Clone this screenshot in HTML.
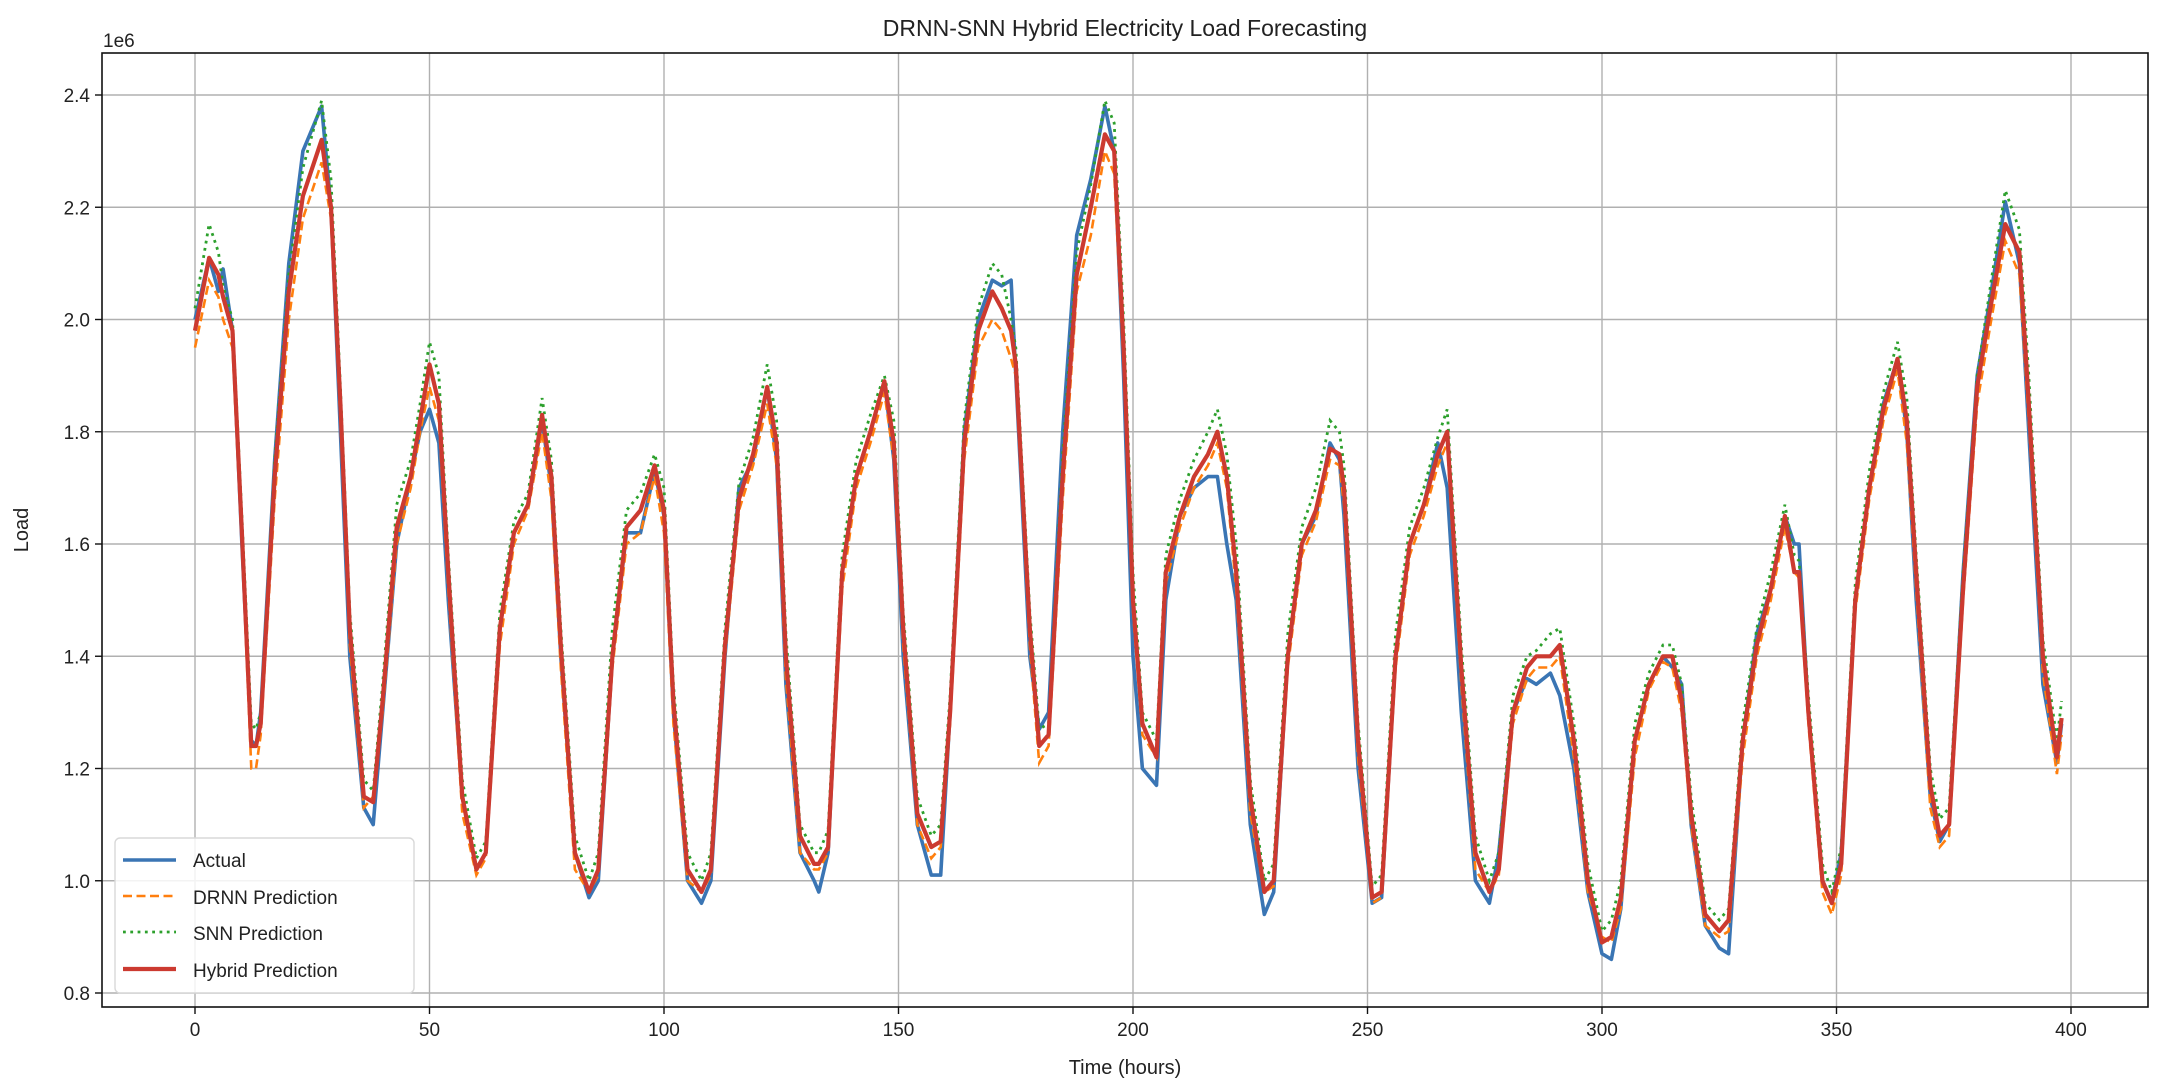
<!DOCTYPE html>
<html><head><meta charset="utf-8"><style>
html,body{margin:0;padding:0;background:#fff;}
svg{display:block;font-family:"Liberation Sans","DejaVu Sans",sans-serif;}
</style></head><body>
<svg id="chart" width="2166" height="1092" viewBox="0 0 2166 1092" xmlns="http://www.w3.org/2000/svg">
<rect width="2166" height="1092" fill="#fff"/>
<text x="1125" y="36" font-size="23" text-anchor="middle" fill="#222">DRNN-SNN Hybrid Electricity Load Forecasting</text>
<text x="103" y="47" font-size="19" fill="#222">1e6</text>
<text transform="translate(28,530) rotate(-90)" font-size="20" text-anchor="middle" fill="#222">Load</text>
<text x="1125" y="1074" font-size="20" text-anchor="middle" fill="#222">Time (hours)</text>
<g id="grid"></g><g id="ticks"></g><g id="series"></g>
<rect x="102" y="53" width="2046" height="954" fill="none" stroke="#111" stroke-width="1.6"/>
<g>
<rect x="115" y="838" width="299" height="155" rx="5" fill="#fff" fill-opacity="0.85" stroke="#d8d8d8" stroke-width="1.4"/>
<line x1="123" y1="860" x2="176" y2="860" stroke="#3a75b4" stroke-width="3.6"/>
<text x="193" y="867" font-size="19" fill="#222">Actual</text>
<line x1="123" y1="896" x2="176" y2="896" stroke="#ff7f0e" stroke-width="2.6" stroke-dasharray="9,4.5"/>
<text x="193" y="904" font-size="19" fill="#222">DRNN Prediction</text>
<line x1="123" y1="932" x2="176" y2="932" stroke="#2ca02c" stroke-width="2.8" stroke-dasharray="2.8,4.5"/>
<text x="193" y="940" font-size="19" fill="#222">SNN Prediction</text>
<line x1="123" y1="969" x2="176" y2="969" stroke="#cc3a30" stroke-width="4.2"/>
<text x="193" y="977" font-size="19" fill="#222">Hybrid Prediction</text>
</g>
</svg>
<script>
const hours=[0,3,5,6,8,10,12,13,14,17,20,23,27,29,31,33,36,38,40,43,46,48,50,52,54,57,60,62,65,68,71,74,76,78,81,84,86,89,92,95,98,100,102,105,108,110,113,116,119,122,124,126,129,132,133,135,138,141,144,147,149,151,154,157,159,161,164,167,170,172,174,175,178,180,182,185,188,191,194,196,198,200,202,205,207,210,213,216,218,220,222,225,228,230,233,236,239,242,244,245,248,251,253,256,259,262,265,267,270,273,276,278,281,284,286,289,291,294,297,300,302,304,307,310,313,315,317,319,322,325,327,330,333,336,339,341,342,344,347,349,351,354,357,360,363,365,367,370,372,374,377,380,383,386,389,391,394,397,398];
const actual=[2.00,2.11,2.05,2.09,1.98,1.60,1.25,1.24,1.30,1.75,2.10,2.30,2.38,2.20,1.80,1.40,1.13,1.10,1.30,1.60,1.72,1.80,1.84,1.78,1.50,1.15,1.02,1.05,1.45,1.62,1.67,1.82,1.70,1.40,1.05,0.97,1.00,1.40,1.62,1.62,1.73,1.65,1.30,1.00,0.96,1.00,1.40,1.70,1.75,1.88,1.75,1.35,1.05,1.00,0.98,1.05,1.55,1.72,1.80,1.89,1.75,1.40,1.10,1.01,1.01,1.30,1.80,2.00,2.07,2.06,2.07,1.90,1.40,1.27,1.30,1.80,2.15,2.25,2.38,2.30,1.90,1.40,1.20,1.17,1.50,1.65,1.70,1.72,1.72,1.60,1.50,1.10,0.94,0.98,1.40,1.60,1.65,1.78,1.75,1.65,1.20,0.96,0.97,1.40,1.60,1.67,1.78,1.70,1.30,1.00,0.96,1.05,1.30,1.36,1.35,1.37,1.33,1.20,0.98,0.87,0.86,0.95,1.25,1.35,1.40,1.38,1.35,1.10,0.92,0.88,0.87,1.25,1.44,1.52,1.65,1.60,1.60,1.30,1.00,0.96,1.05,1.50,1.70,1.85,1.93,1.80,1.50,1.15,1.07,1.10,1.55,1.90,2.05,2.21,2.10,1.80,1.35,1.21,1.28];
const hybrid=[1.98,2.11,2.08,2.04,1.98,1.62,1.24,1.24,1.28,1.72,2.05,2.22,2.32,2.20,1.85,1.45,1.15,1.14,1.32,1.63,1.72,1.82,1.92,1.85,1.55,1.15,1.02,1.05,1.45,1.62,1.67,1.83,1.72,1.42,1.05,0.98,1.02,1.40,1.63,1.66,1.74,1.66,1.32,1.02,0.98,1.02,1.42,1.68,1.76,1.88,1.78,1.40,1.08,1.03,1.03,1.06,1.55,1.72,1.80,1.89,1.78,1.45,1.12,1.06,1.07,1.30,1.78,1.98,2.05,2.02,1.98,1.92,1.45,1.24,1.26,1.72,2.08,2.20,2.33,2.30,1.95,1.50,1.28,1.22,1.55,1.65,1.72,1.76,1.80,1.72,1.55,1.15,0.98,1.00,1.40,1.60,1.66,1.77,1.76,1.70,1.25,0.97,0.98,1.40,1.60,1.67,1.76,1.80,1.38,1.05,0.98,1.02,1.30,1.38,1.40,1.40,1.42,1.25,1.00,0.89,0.90,0.97,1.25,1.35,1.40,1.40,1.32,1.12,0.94,0.91,0.93,1.25,1.42,1.52,1.65,1.55,1.55,1.30,1.00,0.96,1.03,1.50,1.70,1.84,1.93,1.82,1.55,1.17,1.08,1.10,1.52,1.88,2.03,2.17,2.12,1.85,1.40,1.22,1.29];
const drnn=[1.95,2.07,2.04,2.00,1.95,1.60,1.20,1.20,1.26,1.68,2.00,2.18,2.28,2.18,1.82,1.42,1.13,1.15,1.30,1.60,1.70,1.80,1.88,1.82,1.52,1.12,1.01,1.04,1.42,1.60,1.66,1.80,1.68,1.38,1.02,0.98,1.01,1.38,1.60,1.62,1.72,1.62,1.28,1.00,0.98,1.01,1.40,1.66,1.74,1.85,1.74,1.36,1.05,1.02,1.02,1.05,1.52,1.70,1.78,1.87,1.75,1.42,1.10,1.04,1.06,1.28,1.75,1.95,2.00,1.98,1.93,1.90,1.42,1.21,1.24,1.68,2.05,2.15,2.30,2.26,1.92,1.48,1.26,1.22,1.53,1.63,1.70,1.74,1.78,1.70,1.52,1.12,0.98,0.99,1.38,1.58,1.64,1.75,1.74,1.67,1.22,0.96,0.97,1.38,1.58,1.65,1.74,1.78,1.35,1.02,0.98,1.01,1.28,1.36,1.38,1.38,1.40,1.22,0.98,0.90,0.89,0.95,1.22,1.34,1.39,1.38,1.30,1.10,0.92,0.90,0.91,1.22,1.40,1.50,1.63,1.55,1.54,1.28,0.98,0.94,1.01,1.48,1.68,1.82,1.91,1.78,1.52,1.13,1.06,1.08,1.50,1.85,2.00,2.14,2.08,1.82,1.37,1.19,1.26];
const snn=[2.02,2.17,2.12,2.06,2.00,1.65,1.28,1.27,1.30,1.75,2.08,2.27,2.39,2.25,1.88,1.48,1.18,1.16,1.35,1.67,1.75,1.85,1.96,1.90,1.58,1.18,1.04,1.07,1.48,1.64,1.69,1.86,1.75,1.45,1.08,1.00,1.05,1.45,1.66,1.69,1.76,1.70,1.35,1.05,1.00,1.05,1.45,1.71,1.79,1.92,1.82,1.44,1.10,1.05,1.05,1.09,1.58,1.75,1.83,1.90,1.82,1.48,1.15,1.08,1.10,1.33,1.82,2.02,2.10,2.08,2.00,1.95,1.48,1.27,1.28,1.76,2.12,2.24,2.39,2.35,2.00,1.55,1.30,1.25,1.58,1.68,1.75,1.80,1.84,1.76,1.60,1.18,1.00,1.03,1.44,1.63,1.70,1.82,1.80,1.74,1.28,0.99,1.01,1.44,1.63,1.70,1.79,1.84,1.42,1.08,1.00,1.05,1.33,1.40,1.41,1.44,1.45,1.28,1.03,0.91,0.93,1.00,1.28,1.37,1.42,1.42,1.35,1.15,0.96,0.93,0.95,1.28,1.45,1.55,1.67,1.58,1.57,1.33,1.03,0.98,1.06,1.53,1.73,1.87,1.96,1.86,1.58,1.20,1.11,1.13,1.55,1.90,2.07,2.23,2.16,1.90,1.43,1.25,1.32];
const xTicks=[0,50,100,150,200,250,300,350,400];
const yTicks=[0.8,1.0,1.2,1.4,1.6,1.8,2.0,2.2,2.4];

const L=102,R=2148,T=53,B=1007;
function xs(h){return 195+(h-0)*(2071-195)/400;}
function ys(v){return 95+(2.4-v)*(993-95)/1.6;}
const NS='http://www.w3.org/2000/svg';
const grid=document.getElementById('grid'),ticks=document.getElementById('ticks'),ser=document.getElementById('series');
function mk(tag,attrs,parent){const e=document.createElementNS(NS,tag);for(const k in attrs)e.setAttribute(k,attrs[k]);parent.appendChild(e);return e;}
xTicks.forEach(t=>{
  const x=xs(t);
  const g=mk('line',{x1:x,y1:T,x2:x,y2:B,stroke:'#b0b0b0','stroke-width':1.4},grid);
  
  
  const tk=mk('line',{x1:x,y1:B,x2:x,y2:B+7,stroke:'#111','stroke-width':1.4},ticks);
  
  
  const tx=mk('text',{x:x,y:B+29,'font-size':19,'text-anchor':'middle',fill:'#222'},ticks);
  tx.textContent=String(t);
  
  
});
yTicks.forEach(t=>{
  const y=ys(t);
  const g=mk('line',{x1:L,y1:y,x2:R,y2:y,stroke:'#b0b0b0','stroke-width':1.4},grid);
  
  
  const tk=mk('line',{x1:L-7,y1:y,x2:L,y2:y,stroke:'#111','stroke-width':1.4},ticks);
  
  
  const tx=mk('text',{x:L-12,y:y+7,'font-size':19,'text-anchor':'end',fill:'#222'},ticks);
  tx.textContent=t.toFixed(1);
  
  
});
function path(vals){return vals.map((v,i)=>(i?'L':'M')+xs(hours[i]).toFixed(1)+','+ys(v).toFixed(1)).join(' ');}
const a=mk('path',{d:path(actual),fill:'none',stroke:'#3a75b4','stroke-width':3.6,'stroke-linejoin':'round'},ser);


const d=mk('path',{d:path(drnn),fill:'none',stroke:'#ff7f0e','stroke-width':2.6,'stroke-dasharray':'9,4.5'},ser);


const s=mk('path',{d:path(snn),fill:'none',stroke:'#2ca02c','stroke-width':2.8,'stroke-dasharray':'2.8,4.5'},ser);


const hy=mk('path',{d:path(hybrid),fill:'none',stroke:'#cc3a30','stroke-width':4.2,'stroke-linejoin':'round'},ser);


</script>
</body></html>
